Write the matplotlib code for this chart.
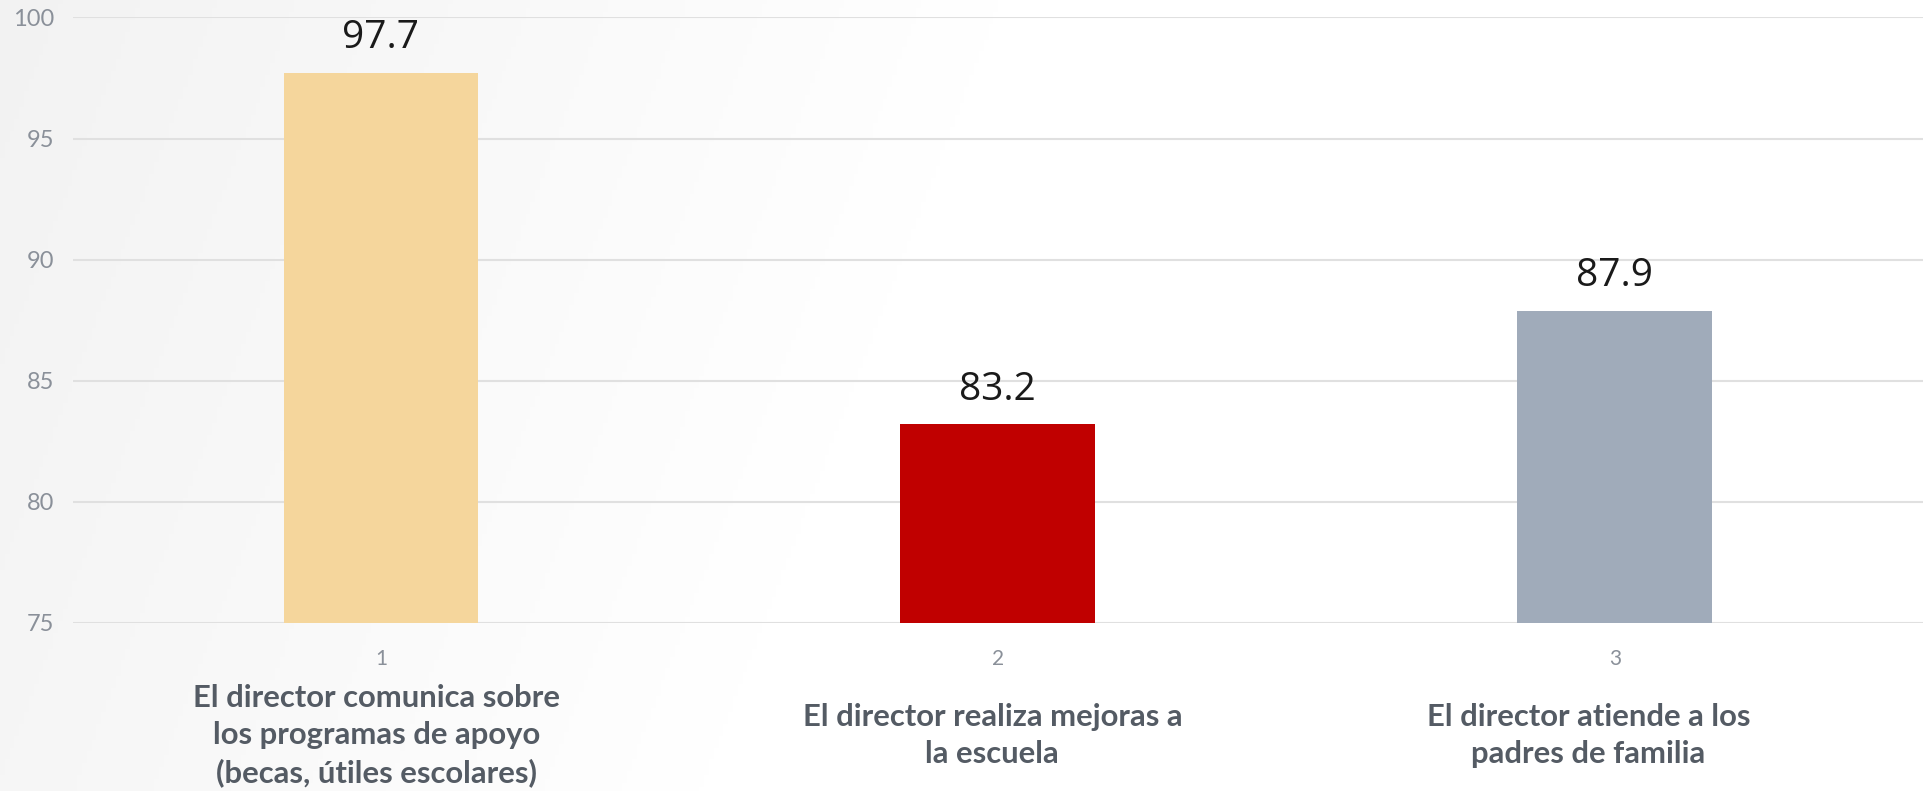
import numpy as np
import matplotlib.pyplot as plt

categorias = ['El director comunica sobre\nlos programas de apoyo\n(becas, útiles escolares)',
              'El director realiza mejoras a\nla escuela',
              'El director atiende a los\npadres de familia']
posiciones = [1, 2, 3]
valores = [97.7, 83.2, 87.9]
colores = ['#f5d69c', '#c00000', '#a0abba']
y_ticks = [75, 80, 85, 90, 95, 100]
# pequeños desplazamientos horizontales de los textos de categoria (pt)
desplaz = [-3, -4, -19]

plt.rcParams['font.family'] = ['Lato', 'DejaVu Sans']

fig = plt.figure(figsize=(19.29, 7.91), dpi=100)
fig.patch.set_facecolor('white')

# fondo con degradado suave (gris claro arriba a la izquierda)
bg = fig.add_axes([0, 0, 1, 1], zorder=0)
gx, gy = np.meshgrid(np.linspace(0, 1, 400), np.linspace(0, 1, 200))
t = np.clip((gx * 1929 + (1 - gy) * 300) / 1000.0, 0, 1)
shade = 0.95 + 0.05 * t
bg.imshow(np.dstack([shade, shade, shade]), aspect='auto', extent=[0, 1, 0, 1], origin='lower')
bg.axis('off')

ax = fig.add_axes([0.0376, 0.2124, 0.9594, 0.7655], zorder=1)
ax.set_facecolor('none')

ax.bar(posiciones, valores, width=0.316, color=colores, zorder=3)
for x, v in zip(posiciones, valores):
    ax.text(x, v + 0.65, '%.1f' % v, ha='center', va='bottom', fontsize=28,
            color='#1a1a1a', family=['Open Sans', 'DejaVu Sans'])

ax.set_xlim(0.5, 3.5)
ax.set_ylim(75, 100)
ax.set_yticks(y_ticks)
ax.grid(axis='y', color='#e0e0e0', linewidth=1.5, zorder=0)
for s in ax.spines.values():
    s.set_visible(False)
ax.tick_params(axis='both', length=0, colors='#8a9099')
ax.tick_params(axis='y', pad=13, labelsize=17)
ax.tick_params(axis='x', pad=19, labelsize=15)
ax.set_xticks(posiciones)
ax.set_xticklabels([str(p) for p in posiciones])

for x, c, d in zip(posiciones, categorias, desplaz):
    ax.annotate(c, xy=(x, 0), xycoords=('data', 'axes fraction'),
                xytext=(d, -81), textcoords='offset points', ha='center', va='center',
                fontsize=22.3, fontweight='bold', color='#545b64', linespacing=1.38)

fig.savefig('out.png', dpi=100)
